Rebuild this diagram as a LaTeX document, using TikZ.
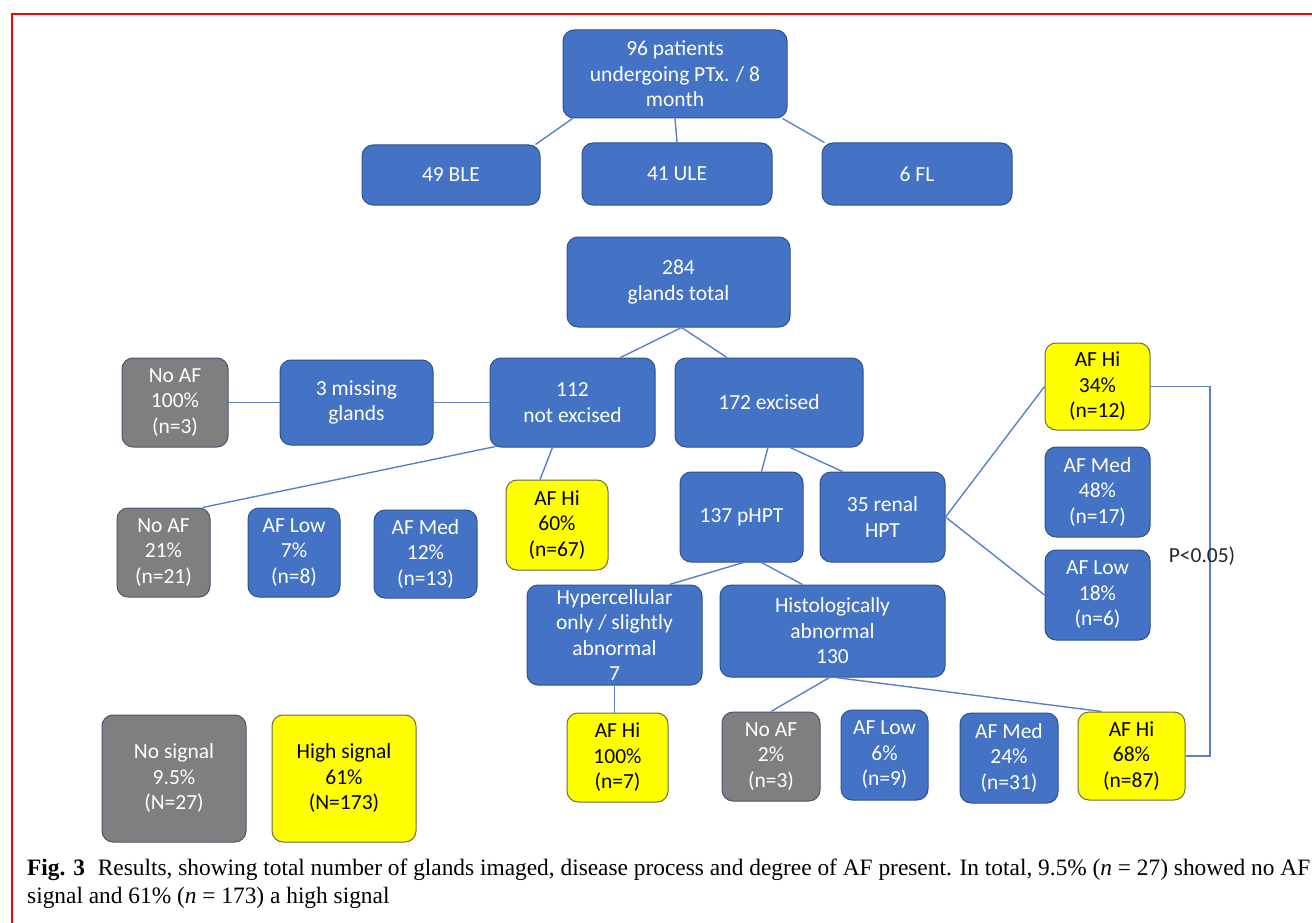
\documentclass[tikz,border=0pt]{standalone}
\usepackage{fontspec}
\setmainfont{Carlito}
\newfontfamily\capfont{Liberation Serif}
\usepackage{graphicx}
\definecolor{boxblue}{HTML}{4472C4}
\definecolor{bordblue}{HTML}{2F528F}
\definecolor{boxgray}{HTML}{7F7F7F}
\definecolor{bordgray}{HTML}{4A5670}
\definecolor{boxyel}{HTML}{FFFF00}
\definecolor{bordyel}{HTML}{6B6B45}
\definecolor{linecol}{HTML}{5B80C8}
\definecolor{framered}{HTML}{FF0000}
\newcommand\mybox[7]{\node[#1, minimum width={(#4-#3)*1pt}, minimum height={(#6-#5)*1pt}] (#2) at ({(#3+#4)/2},{(#5+#6)/2}) {#7};}
\newcommand\capone{\textbf{Fig. 3}\hspace{0.55em}Results, showing total number of glands imaged, disease process and degree of AF present. In total, 9.5\% (\textit{n} = 27) showed no AF}
\newcommand\captwo{signal and 61\% (\textit{n} = 173) a high signal}
\tikzset{
  basebox/.style={rectangle, rounded corners=11pt, inner sep=0pt, align=center,
    font=\fontsize{21.5}{25.5}\selectfont, line width=1pt},
  bluebox/.style={basebox, fill=boxblue, draw=bordblue, text=white},
  graybox/.style={basebox, fill=boxgray, draw=bordgray, text=white},
  yelbox/.style={basebox, fill=boxyel, draw=bordyel, text=black},
  conn/.style={draw=linecol, line width=1.4pt},
}
\begin{document}
\begin{tikzpicture}[x=1pt,y=-1pt]
\useasboundingbox (0,0) rectangle (1312,923);
% frame
\draw[framered, line width=2.6pt] (12,923) -- (12,14) -- (1312,14);

% top
\mybox{bluebox}{top}{563}{787}{30}{118}{96 patients\\undergoing PTx. / 8\\month}
\mybox{bluebox}{ble}{362}{540}{145}{205}{49 BLE}
\mybox{bluebox}{ule}{582}{772}{143}{205}{41 ULE}
\mybox{bluebox}{fl}{822}{1012}{143}{205}{6 FL}

% glands
\mybox{bluebox}{gl}{567}{790}{237}{327}{284\\glands total}
\mybox{graybox}{noafA}{122}{228}{358}{447}{No AF\\100\%\\(n=3)}
\mybox{bluebox}{miss}{280}{433}{360}{445}{3 missing\\glands}
\mybox{bluebox}{notex}{490}{655}{358}{447}{112\\not excised}
\mybox{bluebox}{exc}{675}{863}{358}{447}{172 excised}

% renal results
\mybox{yelbox}{hiR}{1045}{1150}{343}{430}{AF Hi\\34\%\\(n=12)}
\mybox{bluebox}{medR}{1045}{1150}{447}{537}{AF Med\\48\%\\(n=17)}
\mybox{bluebox}{lowR}{1045}{1150}{550}{640}{AF Low\\18\%\\(n=6)}

% not excised results
\mybox{graybox}{noafN}{117}{210}{508}{597}{No AF\\21\%\\(n=21)}
\mybox{bluebox}{lowN}{248}{340}{508}{597}{AF Low\\7\%\\(n=8)}
\mybox{bluebox}{medN}{374}{477}{510}{598}{AF Med\\12\%\\(n=13)}
\mybox{yelbox}{hiN}{506}{608}{480}{570}{AF Hi\\60\%\\(n=67)}

% excised split
\mybox{bluebox}{phpt}{680}{803}{472}{562}{137 pHPT}
\mybox{bluebox}{renal}{820}{945}{472}{562}{35 renal\\HPT}
\mybox{bluebox}{hyper}{527}{702}{585}{685}{Hypercellular\\only / slightly\\abnormal\\7}
\mybox{bluebox}{histo}{720}{945}{585}{677}{Histologically\\abnormal\\130}

% pHPT results
\mybox{yelbox}{hiH}{567}{668}{713}{802}{AF Hi\\100\%\\(n=7)}
\mybox{graybox}{noafP}{722}{820}{712}{801}{No AF\\2\%\\(n=3)}
\mybox{bluebox}{lowP}{841}{928}{710}{800}{AF Low\\6\%\\(n=9)}
\mybox{bluebox}{medP}{960}{1058}{713}{803}{AF Med\\24\%\\(n=31)}
\mybox{yelbox}{hiP}{1078}{1185}{712}{800}{AF Hi\\68\%\\(n=87)}

% summary
\mybox{graybox}{nosig}{102}{246}{715}{842}{No signal\\9.5\%\\(N=27)}
\mybox{yelbox}{hisig}{272}{416}{715}{842}{High signal\\61\%\\(N=173)}

% connectors
\draw[conn] ([xshift=10pt]top.south west) -- ([xshift=-5pt]ble.north east);
\draw[conn] (top.south) -- (ule.north);
\draw[conn] ([xshift=-5pt]top.south east) -- ([xshift=3pt]fl.north west);
\draw[conn] ([xshift=3pt]gl.south) -- ([xshift=48pt]notex.north);
\draw[conn] ([xshift=3pt]gl.south) -- ([xshift=-42pt]exc.north);
\draw[conn] (noafA.east) -- (miss.west);
\draw[conn] (miss.east) -- (notex.west);
\draw[conn] ([xshift=6pt,yshift=1pt]notex.south west) -- ([xshift=-8pt]noafN.north east);
\draw[conn] ([xshift=-20pt]notex.south) -- ([xshift=-17pt]hiN.north);
\draw[conn] ([xshift=-1pt]exc.south) -- ([xshift=20pt]phpt.north);
\draw[conn] ([xshift=21pt]exc.south) -- ([xshift=-40pt]renal.north);
\draw[conn] (renal.east) -- (hiR.west);
\draw[conn] (renal.east) -- (lowR.west);
\draw[conn] ([xshift=2pt]phpt.south) -- ([xshift=55pt]hyper.north);
\draw[conn] ([xshift=20pt]phpt.south) -- ([xshift=-30pt]histo.north);
\draw[conn] (hyper.south) -- (hyper.south |- hiH.north);
\draw[conn] ([xshift=-3pt]histo.south) -- (noafP.north);
\draw[conn] ([xshift=3pt]histo.south) -- ([xshift=-30pt]hiP.north);
\coordinate (brx) at (1210,570);
\draw[conn, line width=1.2pt] (hiR.east) -| (brx) |- (hiP.east);
\node[font=\fontsize{21.5}{25}\selectfont, text=black!85, inner sep=0pt] (pval) at (1202,556) {P<0.05)};

% caption (condensed serif, as in the reference)
\node[anchor=base west, inner sep=0pt] (capA) at (27,875) {\capfont\fontsize{23.5}{28}\selectfont\resizebox{1283pt}{\height}{\capone}};
\node[anchor=base west, inner sep=0pt] (capB) at (27,903) {\capfont\fontsize{23.5}{28}\selectfont\sbox0{\captwo}\sbox2{\capone}\resizebox{\dimexpr 1283pt*\wd0/\wd2\relax}{\height}{\usebox0}};
\end{tikzpicture}
\end{document}
